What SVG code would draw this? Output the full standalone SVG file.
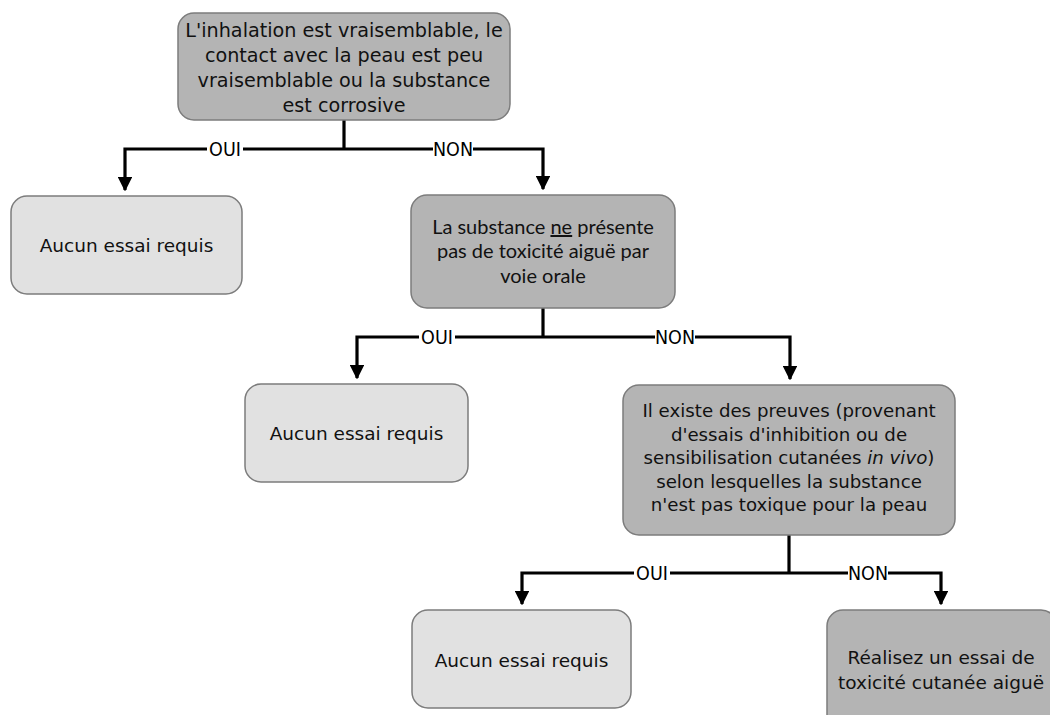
<svg xmlns="http://www.w3.org/2000/svg" width="1050" height="715" viewBox="0 0 1050 715">
  <style>
    .dark { fill: #b4b4b4; stroke: #7c7c7c; stroke-width: 1.5; }
    .light { fill: #e1e1e1; stroke: #7c7c7c; stroke-width: 1.5; }
    .t { font-family: "DejaVu Sans", sans-serif; fill: #111; text-anchor: middle; }
    .c { font-family: Lato, "Liberation Sans", sans-serif; fill: #111; text-anchor: middle; font-size: 20px; }
    .wire { fill: none; stroke: #000; stroke-width: 3.2; stroke-linejoin: miter; }
    .lbl { font-family: "DejaVu Sans Condensed", "DejaVu Sans", sans-serif; font-size: 19.5px; fill: #000; text-anchor: middle; }
    .lblbg { fill: #fff; }
  </style>
  <defs>
    <marker id="head" viewBox="0 0 10 10" refX="9" refY="5" markerWidth="4.6" markerHeight="4.6" markerUnits="strokeWidth" orient="auto">
      <path d="M0,0 L10,5 L0,10 z" fill="#000"/>
    </marker>
  </defs>

  <rect width="1050" height="715" fill="#fff"/>

  <!-- connectors -->
  <g id="connectors">
    <path class="wire" d="M344,120 V149"/>
    <path class="wire" d="M344,149 H125 V190" marker-end="url(#head)"/>
    <path class="wire" d="M344,149 H543 V189" marker-end="url(#head)"/>

    <path class="wire" d="M543,308 V337"/>
    <path class="wire" d="M543,337 H357 V378" marker-end="url(#head)"/>
    <path class="wire" d="M543,337 H790 V379" marker-end="url(#head)"/>

    <path class="wire" d="M789,535 V573"/>
    <path class="wire" d="M789,573 H522 V604" marker-end="url(#head)"/>
    <path class="wire" d="M789,573 H941 V604" marker-end="url(#head)"/>

    <rect class="lblbg" x="207" y="139" width="36" height="20"/>
    <text class="lbl" x="225" y="156">OUI</text>
    <rect class="lblbg" x="433" y="139" width="40" height="20"/>
    <text class="lbl" x="453" y="156">NON</text>

    <rect class="lblbg" x="419" y="327" width="36" height="20"/>
    <text class="lbl" x="437" y="344">OUI</text>
    <rect class="lblbg" x="655" y="327" width="40" height="20"/>
    <text class="lbl" x="675" y="344">NON</text>

    <rect class="lblbg" x="634" y="563" width="36" height="20"/>
    <text class="lbl" x="652" y="580">OUI</text>
    <rect class="lblbg" x="848" y="563" width="40" height="20"/>
    <text class="lbl" x="868" y="580">NON</text>
  </g>

  <!-- first question -->
  <g id="q1">
    <rect class="dark" x="178" y="13" width="332" height="107" rx="16"/>
    <text class="t" font-size="19.2" x="344" y="37">L'inhalation est vraisemblable, le</text>
    <text class="t" font-size="19.2" x="344" y="62">contact avec la peau est peu</text>
    <text class="t" font-size="19.2" x="344" y="87">vraisemblable ou la substance</text>
    <text class="t" font-size="19.2" x="344" y="112">est corrosive</text>
  </g>

  <g id="none1">
    <rect class="light" x="11" y="196" width="231" height="98" rx="16"/>
    <text class="t" font-size="18.5" x="126.5" y="252">Aucun essai requis</text>
  </g>

  <!-- second question -->
  <g id="q2">
    <rect class="dark" x="411" y="195" width="264" height="113" rx="16"/>
    <text class="c" x="543" y="234">La substance <tspan text-decoration="underline">ne</tspan> présente</text>
    <text class="c" x="543" y="258">pas de toxicité aiguë par</text>
    <text class="c" x="543" y="283">voie orale</text>
  </g>

  <g id="none2">
    <rect class="light" x="245" y="384" width="223" height="98" rx="16"/>
    <text class="t" font-size="18.5" x="356.5" y="440">Aucun essai requis</text>
  </g>

  <!-- third question -->
  <g id="q3">
    <rect class="dark" x="623" y="385" width="332" height="150" rx="16"/>
    <text class="t" font-size="18.2" x="789" y="417">Il existe des preuves (provenant</text>
    <text class="t" font-size="18.2" x="789" y="441">d'essais d'inhibition ou de</text>
    <text class="t" font-size="18.2" x="789" y="464">sensibilisation cutanées <tspan font-style="italic">in vivo</tspan>)</text>
    <text class="t" font-size="18.2" x="789" y="488">selon lesquelles la substance</text>
    <text class="t" font-size="18.2" x="789" y="511">n'est pas toxique pour la peau</text>
  </g>

  <g id="none3">
    <rect class="light" x="412" y="610" width="219" height="98" rx="16"/>
    <text class="t" font-size="18.5" x="521.5" y="667">Aucun essai requis</text>
  </g>

  <g id="dermal-test">
    <rect class="dark" x="827" y="610" width="230" height="130" rx="16"/>
    <text class="t" font-size="18.5" x="941" y="664">Réalisez un essai de</text>
    <text class="t" font-size="18.5" x="941" y="689">toxicité cutanée aiguë</text>
  </g>
</svg>
